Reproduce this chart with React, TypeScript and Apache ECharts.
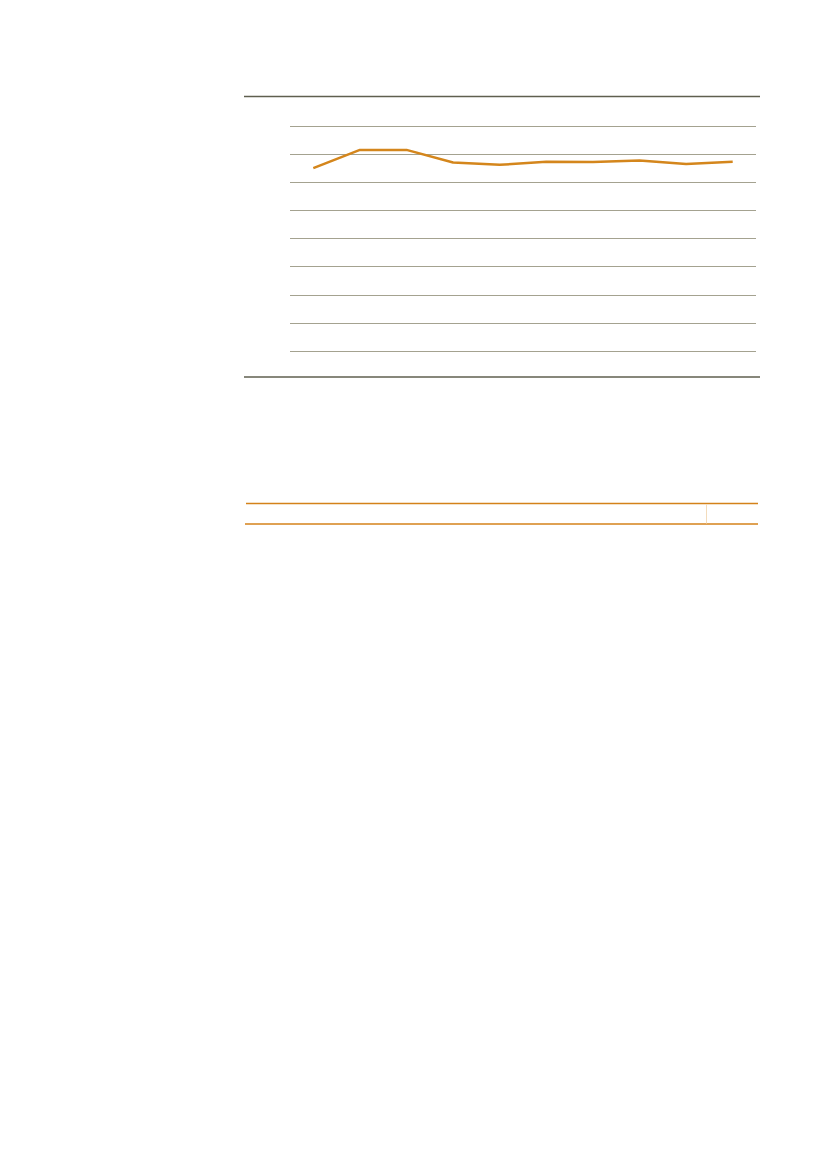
import React, { useEffect, useRef } from 'react';
import * as echarts from 'echarts';

// ten unlabeled periods, values read against 9 gridlines (0..8)
const categories = ['1', '2', '3', '4', '5', '6', '7', '8', '9', '10'];
const seriesValues = [6.5, 7.15, 7.15, 6.7, 6.62, 6.73, 6.72, 6.77, 6.65, 6.73];
const yTicks = [0, 1, 2, 3, 4, 5, 6, 7, 8];

const App: React.FC = () => {
  const chartRef = useRef<HTMLDivElement>(null);

  useEffect(() => {
    if (!chartRef.current) return;
    const chart = echarts.init(chartRef.current, undefined, { renderer: 'svg' });

    const rule = (x1: number, x2: number, y: number, color: string, width: number) => ({
      type: 'line',
      shape: { x1, y1: y, x2, y2: y },
      style: { stroke: color, lineWidth: width },
      silent: true,
    });

    chart.setOption({
      animation: false,
      backgroundColor: '#ffffff',
      grid: { left: 290, right: 71, top: 126, bottom: 818 },
      xAxis: {
        type: 'category',
        data: categories,
        boundaryGap: true,
        axisLine: { show: false },
        axisTick: { show: false },
        axisLabel: { show: false },
      },
      yAxis: {
        type: 'value',
        min: yTicks[0],
        max: yTicks[yTicks.length - 1],
        interval: 1,
        axisLine: { show: false },
        axisTick: { show: false },
        axisLabel: { show: false },
        splitLine: { lineStyle: { color: '#a4a290', width: 1 } },
      },
      series: [
        {
          type: 'line',
          data: seriesValues,
          symbol: 'none',
          lineStyle: { color: '#d4861c', width: 2.5 },
        },
      ],
      graphic: [
        rule(244, 760, 96.5, '#5f5f4f', 1.5),
        rule(244, 760, 377, '#5f5f4f', 1.5),
        rule(246, 758, 503.5, '#d4821a', 1.5),
        rule(245, 758, 524, '#d4821a', 1.5),
        {
          type: 'line',
          shape: { x1: 706.5, y1: 504, x2: 706.5, y2: 523.5 },
          style: { stroke: '#f3dcbc', lineWidth: 1 },
          silent: true,
        },
      ],
    });

    return () => chart.dispose();
  }, []);

  return (
    <div
      ref={chartRef}
      style={{ position: 'absolute', left: 0, top: 0, width: 827, height: 1169 }}
    />
  );
};

export default App;
